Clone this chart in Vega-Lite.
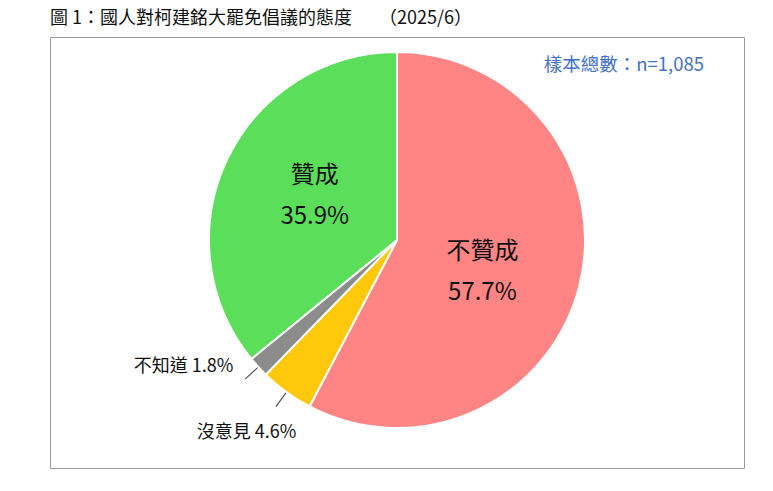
{
  "$schema": "https://vega.github.io/schema/vega-lite/v6.json",
  "width": 694,
  "height": 431,
  "autosize": {"type": "none"},
  "padding": {"left": 50, "top": 37, "right": 29, "bottom": 23},
  "title": {
    "text": "圖 1：國人對柯建銘大罷免倡議的態度　　（2025/6）",
    "anchor": "start",
    "frame": "group",
    "baseline": "bottom",
    "offset": 8,
    "dy": 17,
    "fontSize": 18,
    "fontWeight": "normal",
    "font": "Noto Sans CJK TC",
    "color": "#111111"
  },
  "config": {
    "view": {"stroke": "#999999", "strokeWidth": 1},
    "font": "Noto Sans CJK TC"
  },
  "data": {
    "values": [
      {"cat": "不贊成", "value": 57.7, "order": 1},
      {"cat": "沒意見", "value": 4.6, "order": 2},
      {"cat": "不知道", "value": 1.8, "order": 3},
      {"cat": "贊成", "value": 35.9, "order": 4}
    ]
  },
  "transform": [
    {"stack": "value", "groupby": [], "sort": [{"field": "order", "order": "ascending"}], "as": ["start", "end"]},
    {"calculate": "(datum.start + datum.end) / 2", "as": "mid"},
    {"calculate": "format(datum.value, '.1f') + '%'", "as": "pct"},
    {"calculate": "datum.cat + ' ' + datum.pct", "as": "outer"},
    {"calculate": "datum.cat + '\\n' + datum.pct", "as": "inner"}
  ],
  "encoding": {
    "y": {"datum": "pie", "type": "nominal", "scale": {"type": "point", "align": 0.471}, "axis": null}
  },
  "layer": [
    {
      "mark": {"type": "arc", "radius": 188, "stroke": "white", "strokeWidth": 2},
      "encoding": {
        "theta": {"field": "start", "type": "quantitative", "scale": {"domain": [0, 100]}},
        "theta2": {"field": "end"},
        "color": {
          "field": "cat",
          "type": "nominal",
          "scale": {
            "domain": ["不贊成", "沒意見", "不知道", "贊成"],
            "range": ["#FF8585", "#FFC80A", "#8C8C8C", "#5BDF5B"]
          },
          "legend": null
        }
      }
    },
    {
      "transform": [{"filter": "datum.cat === '不知道' || datum.cat === '沒意見'"}],
      "mark": {"type": "arc", "radius": 206, "radius2": 189, "fill": null, "stroke": "#555555", "strokeWidth": 1.2},
      "encoding": {
        "theta": {"field": "mid", "type": "quantitative"},
        "theta2": {"field": "mid"}
      }
    },
    {
      "transform": [{"filter": "datum.cat === '不贊成'"}],
      "mark": {"type": "text", "radius": 88, "dy": -9, "fontSize": 24, "lineHeight": 41, "lineBreak": "\n", "baseline": "middle", "align": "center", "color": "#111111"},
      "encoding": {
        "theta": {"field": "mid", "type": "quantitative"},
        "text": {"field": "inner"}
      }
    },
    {
      "transform": [{"filter": "datum.cat === '贊成'"}],
      "mark": {"type": "text", "radius": 91, "dy": -25, "fontSize": 24, "lineHeight": 41, "lineBreak": "\n", "baseline": "middle", "align": "center", "color": "#111111"},
      "encoding": {
        "theta": {"field": "mid", "type": "quantitative"},
        "text": {"field": "inner"}
      }
    },
    {
      "transform": [{"filter": "datum.cat === '不知道'"}],
      "mark": {"type": "text", "radius": 188, "dx": -25, "dy": 0, "fontSize": 18, "baseline": "middle", "align": "right", "color": "#111111"},
      "encoding": {
        "theta": {"field": "mid", "type": "quantitative"},
        "text": {"field": "outer"}
      }
    },
    {
      "transform": [{"filter": "datum.cat === '沒意見'"}],
      "mark": {"type": "text", "radius": 188, "dx": -40, "dy": 41, "fontSize": 18, "baseline": "middle", "align": "center", "color": "#111111"},
      "encoding": {
        "theta": {"field": "mid", "type": "quantitative"},
        "text": {"field": "outer"}
      }
    },
    {
      "data": {"values": [{"note": "樣本總數：n=1,085"}]},
      "mark": {"type": "text", "fontSize": 18.5, "align": "right", "baseline": "middle", "color": "#4472C4"},
      "encoding": {
        "x": {"value": 654},
        "y": {"value": 28},
        "text": {"field": "note"}
      }
    }
  ]
}
